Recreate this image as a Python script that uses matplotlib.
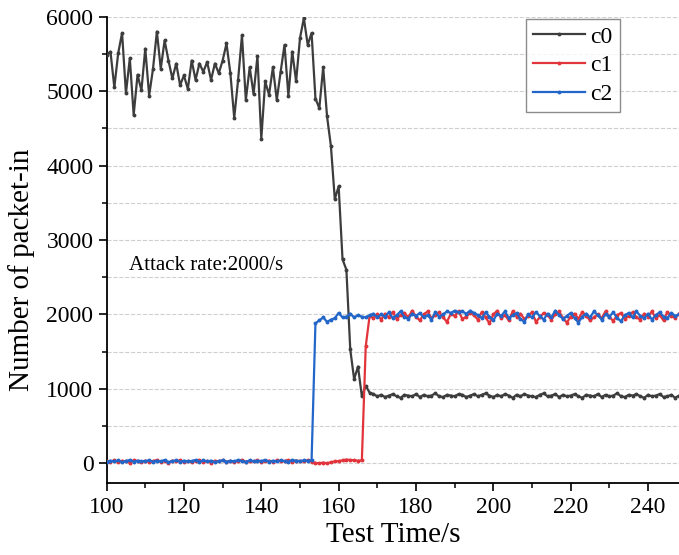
import numpy as np
import matplotlib
matplotlib.use("Agg")
import matplotlib.pyplot as plt
from matplotlib.ticker import MultipleLocator

plt.rcParams['font.family'] = ['Liberation Serif', 'DejaVu Serif']

# data, one sample per second, t = 100..248
times = np.arange(100, 249)

c0_head = [5490, 5530, 5050, 5510, 5780, 4970, 5440, 4680, 5220, 5010,
           5570, 4940, 5300, 5800, 5300, 5680, 5410, 5170, 5370, 5080,
           5210, 5030, 5410, 5150, 5370, 5260, 5390, 5150, 5370, 5240,
           5410, 5640, 5240, 4640, 5150, 5750, 4880, 5320, 4960, 5470,
           4360, 5130, 4950, 5320, 4880, 5260, 5620, 4940, 5530, 5130,
           5710, 5980, 5620, 5780, 4900, 4770, 5320, 4660, 4260, 3550,
           3720, 2740, 2600, 1530, 1130, 1300, 900, 1040, 950]
c0_tail = [930, 900, 920, 890, 910, 930, 900, 880, 920, 910,
           900, 930, 890, 920, 900, 910, 940, 900, 890, 920,
           910, 900, 930, 920, 890, 910, 930, 900, 920, 940,
           910, 890, 920, 900, 930, 910, 880, 920, 900, 930,
           910, 900, 890, 920, 940, 900, 910, 930, 890, 920,
           900, 910, 930, 900, 880, 920, 910, 900, 930, 890,
           920, 900, 910, 940, 900, 890, 920, 910, 930, 900,
           880, 920, 900, 910, 930, 890, 900, 920, 880, 910]

c1_head = [30, 20, 40, 15, 35, 25, 10, 40, 30, 20,
           35, 15, 30, 45, 20, 30, 10, 35, 25, 40,
           20, 30, 15, 35, 40, 20, 30, 10, 35, 25,
           40, 20, 30, 15, 35, 45, 20, 30, 25, 40,
           15, 30, 35, 20, 40, 25, 30, 45, 20, 35,
           30, 25, 40, 20, 5, 0, 10, 0, 15, 25,
           30, 40, 50, 45, 40, 35, 40, 1570, 1980]
c1_tail = [1950, 2000, 1930, 2010, 1960, 2030, 1940, 1990, 2020, 1960,
           2050, 1970, 1920, 2000, 2040, 1950, 1990, 2030, 1960, 1900,
           2010, 1980, 2040, 1940, 1970, 2020, 1990, 1930, 2030, 1960,
           1880, 2000, 2050, 1950, 1990, 1920, 2040, 1970, 2010, 1940,
           1980, 2030, 1900, 1960, 2020, 1990, 1930, 2000, 2040, 1950,
           1890, 1970, 2010, 1940, 2030, 1980, 1920, 1960, 2000, 1950,
           2040, 1970, 1910, 1990, 2020, 1940, 1980, 2030, 1960, 1930,
           2010, 1970, 2040, 1950, 1990, 1920, 2030, 1980, 1950, 2010]

c2_head = [20, 35, 25, 40, 15, 30, 45, 20, 35, 25,
           30, 40, 20, 35, 25, 45, 15, 30, 40, 20,
           35, 25, 30, 45, 20, 40, 25, 35, 15, 30,
           40, 20, 35, 25, 45, 30, 20, 40, 25, 35,
           30, 45, 20, 35, 25, 40, 30, 20, 45, 35,
           30, 40, 35, 40]
c2_tail = [1880, 1920, 1960, 1900, 1930, 1950, 2020, 1960, 1970, 2010,
           1960, 1990, 1970, 1960, 1990, 2010, 1960, 2000, 1970, 2030,
           1950, 1990, 2040, 1970, 1940, 2010, 1980, 2020, 1960, 1990,
           1930, 2030, 1970, 2000, 2040, 2020, 2050, 2030, 2040, 2010,
           2050, 2020, 1990, 1950, 2030, 1970, 1920, 2010, 1980, 2040,
           1950, 1990, 2020, 1940, 1900, 2000, 1960, 2030, 1980, 1930,
           2010, 1960, 2050, 1990, 1940, 1980, 2020, 1950, 1890, 1970,
           2010, 1960, 2040, 1990, 1930, 2000, 1970, 2030, 1950, 1910,
           1990, 2020, 1960, 2040, 1980, 1950, 2010, 1930, 1990, 2030,
           1970, 1950, 2020, 1980, 2000]

c0 = np.array(c0_head + c0_tail)
c1 = np.array(c1_head + c1_tail)
c2 = np.array(c2_head + c2_tail)

colors = {'c0': '#3d3d3d', 'c1': '#e2343b', 'c2': '#2266c9'}

fig = plt.figure(figsize=(6.79, 5.55), dpi=100)
ax = fig.add_axes([0.157, 0.129, 0.843, 0.841])

for name, vals in [('c0', c0), ('c1', c1), ('c2', c2)]:
    ax.plot(times, vals, color=colors[name], lw=1.6, marker='o', ms=1.8,
            label=name, zorder=3)

ax.set_xlim(100, 248)
ax.set_ylim(-270, 6000)
ax.xaxis.set_major_locator(MultipleLocator(20))
ax.xaxis.set_minor_locator(MultipleLocator(10))
ax.yaxis.set_major_locator(MultipleLocator(1000))
ax.yaxis.set_minor_locator(MultipleLocator(500))

ax.grid(True, which='both', axis='y', ls='--', lw=0.8, color='#cfcfcf', zorder=0)
ax.set_axisbelow(True)

for side in ['top', 'right']:
    ax.spines[side].set_visible(False)
for side in ['left', 'bottom']:
    ax.spines[side].set_linewidth(1.3)

ax.tick_params(which='major', direction='out', length=6, width=1.2, labelsize=17)
ax.tick_params(which='minor', direction='out', length=3.5, width=1.1)

ax.set_xlabel('Test Time/s', fontsize=21, labelpad=3)
ax.set_ylabel('Number of packet-in', fontsize=21)
ax.yaxis.set_label_coords(-0.125, 0.457)

ax.text(105.7, 2660, 'Attack rate:2000/s', fontsize=15, ha='left', va='center')

leg = ax.legend(loc='upper right', bbox_to_anchor=(0.897, 0.995), fontsize=17,
                frameon=True, fancybox=False, edgecolor='#707070',
                handlelength=2.2, handletextpad=0.25, labelspacing=0.3,
                borderpad=0.3, borderaxespad=0.0, markerscale=1.0)
leg.get_frame().set_linewidth(1.0)

fig.savefig('out.png', dpi=100)
